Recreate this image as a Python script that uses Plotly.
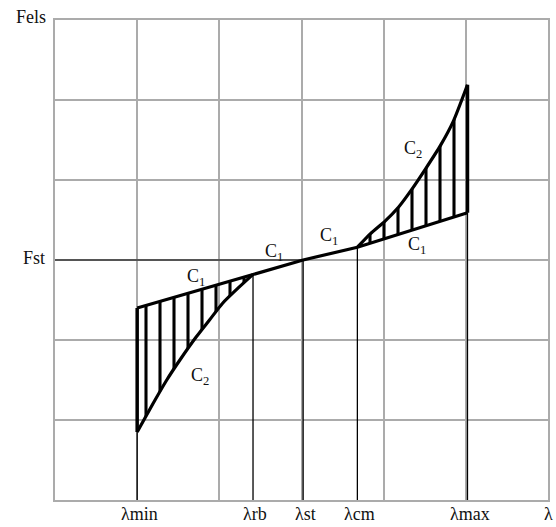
import plotly.graph_objects as go

# --- data (axis units: 6 grid columns x 6 grid rows) ---
lam_names = ["λmin", "λrb", "λst", "λcm", "λmax"]
lam_x = [1.00, 2.41, 3.02, 3.68, 5.02]
c1_y = [2.40, 2.82, 3.00, 3.16, 3.59]

c2_left_x = [1.00, 1.19, 1.36, 1.52, 1.72, 1.88, 2.04, 2.24, 2.41]
c2_left_y = [0.85, 1.20, 1.50, 1.75, 2.04, 2.25, 2.46, 2.66, 2.82]
c2_right_x = [3.68, 3.84, 4.02, 4.18, 4.34, 4.51, 4.69, 4.85, 5.02]
c2_right_y = [3.16, 3.33, 3.49, 3.66, 3.88, 4.14, 4.43, 4.74, 5.19]

f_st = 3.0
lam_end = 5.98

c1_labels_x = [1.72, 2.67, 3.33, 4.40]
c1_labels_y = [2.78, 3.09, 3.29, 3.18]
c2_labels_x = [1.76, 4.36]
c2_labels_y = [1.54, 4.38]

FONT = "Liberation Serif"
FS = 18
GRID = "#ababab"

fig = go.Figure()

# hatched regions between C1 and C2
left_poly_x = [lam_x[0], lam_x[1]] + c2_left_x[::-1]
left_poly_y = [c1_y[0], c1_y[1]] + c2_left_y[::-1]
right_poly_x = [lam_x[3], lam_x[4]] + c2_right_x[::-1]
right_poly_y = [c1_y[3], c1_y[4]] + c2_right_y[::-1]
for px, py in [(left_poly_x, left_poly_y), (right_poly_x, right_poly_y)]:
    fig.add_trace(go.Scatter(
        x=px, y=py, mode="lines", fill="toself",
        line=dict(width=0, color="rgba(0,0,0,0)"),
        fillcolor="rgba(0,0,0,0)",
        fillpattern=dict(shape="|", size=14, solidity=0.22,
                         fgcolor="black", bgcolor="rgba(0,0,0,0)", fgopacity=1),
        hoverinfo="skip", showlegend=False))

# Fst horizontal line (from axis to lambda_st)
fig.add_trace(go.Scatter(x=[0, lam_x[2]], y=[f_st, f_st], mode="lines",
                         line=dict(color="#555555", width=2),
                         hoverinfo="skip", showlegend=False))

# thin vertical drop lines at each lambda
for lx, ly in zip(lam_x, c1_y):
    fig.add_trace(go.Scatter(x=[lx, lx], y=[0, ly], mode="lines",
                             line=dict(color="black", width=1.3),
                             hoverinfo="skip", showlegend=False))

# thick boundary verticals at lambda_min and lambda_max
fig.add_trace(go.Scatter(x=[lam_x[0], lam_x[0]], y=[c2_left_y[0], c1_y[0]],
                         mode="lines", line=dict(color="black", width=3.5),
                         hoverinfo="skip", showlegend=False))
fig.add_trace(go.Scatter(x=[lam_x[4], lam_x[4]], y=[c1_y[4], c2_right_y[-1]],
                         mode="lines", line=dict(color="black", width=3.5),
                         hoverinfo="skip", showlegend=False))

# C1 line
fig.add_trace(go.Scatter(x=lam_x, y=c1_y, mode="lines",
                         line=dict(color="black", width=3.2),
                         hoverinfo="skip", showlegend=False))
# C2 curves
for cx, cy in [(c2_left_x, c2_left_y), (c2_right_x, c2_right_y)]:
    fig.add_trace(go.Scatter(x=cx, y=cy, mode="lines",
                             line=dict(color="black", width=3.2, shape="spline", smoothing=0.6),
                             hoverinfo="skip", showlegend=False))

txt = dict(family=FONT, size=FS, color="#111")
ann = []
for name, lx in zip(lam_names, lam_x):
    ann.append(dict(x=lx + 0.03, y=0, xref="x", yref="paper", yanchor="middle",
                    yshift=-14, text=name, showarrow=False, font=txt))
ann.append(dict(x=lam_end, y=0, xref="x", yref="paper", yanchor="middle", yshift=-14,
                text="λ", showarrow=False, xanchor="left", xshift=-4, font=txt))
ann.append(dict(x=0, y=f_st, xref="x", yref="y", text="Fst", xanchor="right",
                xshift=-8, yshift=2, showarrow=False, font=txt))
ann.append(dict(x=0, y=6, xref="x", yref="y", text="Fels",
                xanchor="right", xshift=-7, yshift=3, showarrow=False, font=txt))
for tx, ty in zip(c1_labels_x, c1_labels_y):
    ann.append(dict(x=tx, y=ty, xref="x", yref="y", text="C<sub>1</sub>",
                    showarrow=False, font=txt))
for tx, ty in zip(c2_labels_x, c2_labels_y):
    ann.append(dict(x=tx, y=ty, xref="x", yref="y", text="C<sub>2</sub>",
                    showarrow=False, font=txt))

fig.update_layout(
    width=556, height=527,
    margin=dict(l=55, r=6, t=20, b=27),
    paper_bgcolor="white", plot_bgcolor="white",
    annotations=ann,
    xaxis=dict(range=[0, 6], dtick=1, showgrid=True, gridcolor=GRID, gridwidth=1.5,
               showticklabels=False, ticks="", zeroline=False,
               showline=True, linecolor=GRID, linewidth=1.5, mirror=True, fixedrange=True),
    yaxis=dict(range=[0, 6], dtick=1, showgrid=True, gridcolor=GRID, gridwidth=1.5,
               showticklabels=False, ticks="", zeroline=False,
               showline=True, linecolor=GRID, linewidth=1.5, mirror=True, fixedrange=True),
)

fig.write_html("out.html", config={"displayModeBar": False},
               post_script="document.body.style.margin='0';")
